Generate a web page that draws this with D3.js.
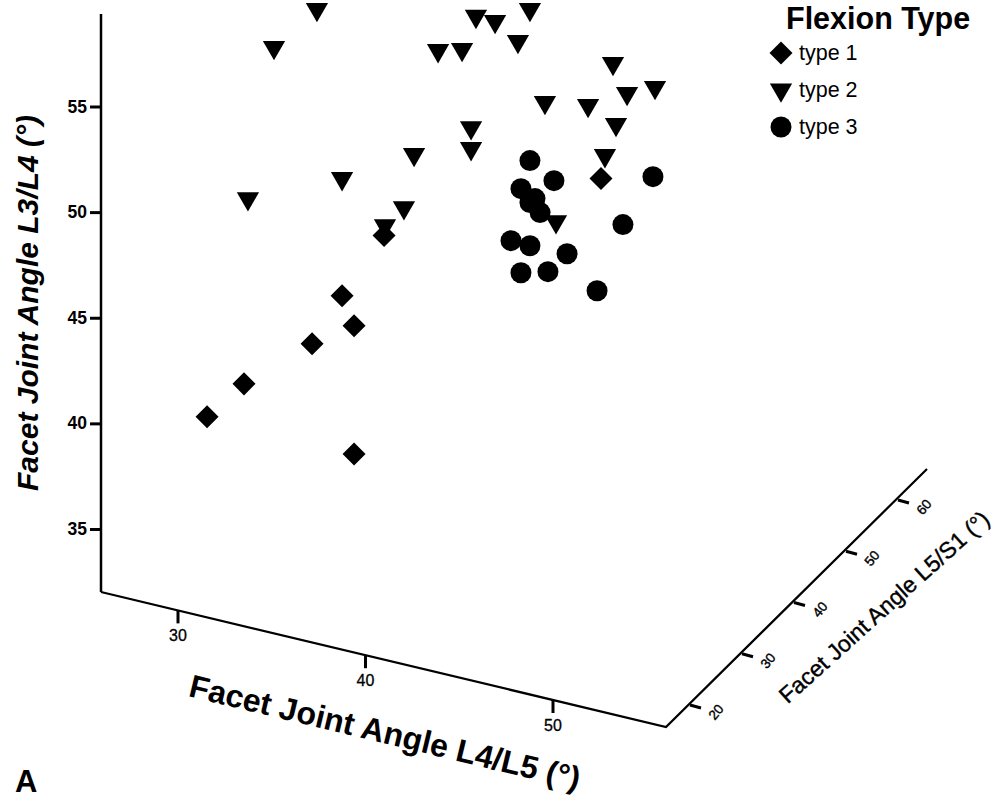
<!DOCTYPE html>
<html>
<head>
<meta charset="utf-8">
<script src="https://cdn.jsdelivr.net/npm/d3@7"></script>
<style>
  html, body { margin: 0; padding: 0; background: #fff; }
  text { font-family: "Liberation Sans", Arial, sans-serif; fill: #000; }
</style>
</head>
<body>
<div id="chart"></div>
<script>
var type1X = [31.55, 33.52, 37.15, 38.75, 39.39, 39.39, 40.99, 52.56];
var type1Y = [40.31, 41.87, 43.77, 46.04, 44.62, 38.55, 48.89, 51.59];

var type2X = [35.12, 37.41, 33.73, 38.75, 41.04, 42.05, 42.59, 43.87, 45.15, 45.89, 46.91, 48.77,
              48.13, 45.63, 45.63, 49.57, 51.87, 52.77, 53.36, 53.95, 53.20, 55.44, 50.16];
var type2Y = [57.80, 59.60, 50.64, 51.59, 49.36, 50.21, 52.73, 57.65, 57.70, 59.27, 59.03, 59.60,
              58.08, 54.00, 53.01, 55.19, 55.05, 52.68, 54.15, 55.62, 57.04, 55.90, 49.55];

var type3X = [48.77, 48.29, 49.04, 48.77, 50.05, 55.33, 49.31, 53.73, 47.76, 48.77, 50.75, 48.29, 49.73, 52.35];
var type3Y = [52.44, 51.11, 50.64, 50.45, 51.49, 51.68, 49.98, 49.41, 48.65, 48.41, 48.03, 47.13, 47.18, 46.28];

var typeNames = ["type 1", "type 2", "type 3"];
var xTicks = [30, 40, 50];
var yTicks = [35, 40, 45, 50, 55];
var zTicks = [20, 30, 40, 50, 60];

var wi = 1005, he = 799;

var svg = d3.select("#chart").append("svg")
  .attr("width", wi)
  .attr("height", he)
  .style("display", "block");

// scales
var x = d3.scaleLinear().domain([30, 50]).range([178, 553]);
var y = d3.scaleLinear().domain([35, 55]).range([529, 106.5]);
var floorY = d3.scaleLinear().domain([101, 666]).range([592, 727]); // slope of the front floor edge
var zX = d3.scaleLinear().domain([20, 60]).range([690, 898]);
var zY = d3.scaleLinear().domain([20, 60]).range([705, 500]);

// y axis
var yAxis = svg.append("g")
  .attr("transform", "translate(101,0)")
  .call(d3.axisLeft(y).tickValues(yTicks).tickSize(11).tickPadding(3).tickFormat(d3.format("d")));
yAxis.select(".domain").remove();
yAxis.selectAll(".tick line").attr("stroke", "#000").attr("stroke-width", 3);
yAxis.selectAll(".tick text")
  .style("font-size", "17.5px").style("font-weight", "bold").attr("fill", "#000");
svg.append("line").attr("x1", 101).attr("x2", 101).attr("y1", 14).attr("y2", 592)
  .attr("stroke", "#000").attr("stroke-width", 2.5);

// floor edges
svg.append("polyline")
  .attr("points", [[101, 592], [666, 727], [927, 469]].join(" "))
  .attr("fill", "none").attr("stroke", "#000").attr("stroke-width", 2.2)
  .attr("stroke-linejoin", "miter");

// x ticks
var xt = svg.append("g").selectAll("g").data(xTicks).enter().append("g")
  .attr("transform", function(d) { return "translate(" + x(d) + "," + floorY(x(d)) + ")"; });
xt.append("line").attr("y1", 0).attr("y2", 13).attr("stroke", "#000").attr("stroke-width", 3);
xt.append("text").attr("y", 31).attr("text-anchor", "middle")
  .style("font-size", "16px").style("stroke", "#000").style("stroke-width", 0.3)
  .text(function(d) { return d; });

// z ticks
var zt = svg.append("g").selectAll("g").data(zTicks).enter().append("g")
  .attr("transform", function(d) { return "translate(" + zX(d) + "," + zY(d) + ")"; });
zt.append("line").attr("x1", 0).attr("y1", 0).attr("x2", 11).attr("y2", 3)
  .attr("stroke", "#000").attr("stroke-width", 3);
zt.append("text")
  .attr("transform", "translate(26,7) rotate(-50)")
  .attr("text-anchor", "middle").attr("dy", "0.35em")
  .style("font-size", "13.5px").style("stroke", "#000").style("stroke-width", 0.4)
  .text(function(d) { return d; });

// axis titles
svg.append("text")
  .attr("transform", "translate(27,303) rotate(-90)")
  .attr("text-anchor", "middle").attr("dy", "0.35em")
  .style("font-size", "30px").style("font-weight", "bold").style("font-style", "italic")
  .text("Facet Joint Angle L3/L4 (°)");
svg.append("text")
  .attr("transform", "translate(385,732) rotate(13.5)")
  .attr("text-anchor", "middle").attr("dy", "0.35em")
  .style("font-size", "32px").style("font-weight", "bold")
  .text("Facet Joint Angle L4/L5 (°)");
svg.append("text")
  .attr("transform", "translate(884,607) rotate(-42)")
  .attr("text-anchor", "middle").attr("dy", "0.35em")
  .style("font-size", "23px").style("stroke", "#000").style("stroke-width", 0.4)
  .text("Facet Joint Angle L5/S1 (°)");

// marker shapes
var diamond = d3.symbol().type(d3.symbolSquare).size(265)();
var triangle = d3.symbol().type(d3.symbolTriangle).size(215)();
var circle = d3.symbol().type(d3.symbolCircle).size(346)();
var shapes = [
  { path: diamond, rot: 45 },
  { path: triangle, rot: 180 },
  { path: circle, rot: 0 }
];

function drawSeries(xs, ys, shape) {
  svg.append("g").selectAll("path")
    .data(d3.zip(xs, ys))
    .enter()
    .append("path")
    .attr("d", shape.path)
    .attr("fill", "#000")
    .attr("transform", function(d) {
      return "translate(" + x(d[0]) + "," + y(d[1]) + ") rotate(" + shape.rot + ")";
    });
}
drawSeries(type1X, type1Y, shapes[0]);
drawSeries(type2X, type2Y, shapes[1]);
drawSeries(type3X, type3Y, shapes[2]);

// legend
svg.append("text").attr("x", 786).attr("y", 29)
  .style("font-size", "30.5px").style("font-weight", "bold").text("Flexion Type");
var legend = svg.append("g").selectAll("g").data(typeNames).enter().append("g")
  .attr("transform", function(d, i) { return "translate(781," + (53 + i * 37) + ")"; });
legend.append("path")
  .attr("d", function(d, i) { return shapes[i].path; })
  .attr("transform", function(d, i) { return "rotate(" + shapes[i].rot + ")"; })
  .attr("fill", "#000");
legend.append("text").attr("x", 18).attr("y", 7)
  .style("font-size", "21.5px").text(function(d) { return d; });

// panel letter
svg.append("text").attr("x", 15).attr("y", 792)
  .style("font-size", "31px").style("font-weight", "bold").text("A");
</script>
</body>
</html>
